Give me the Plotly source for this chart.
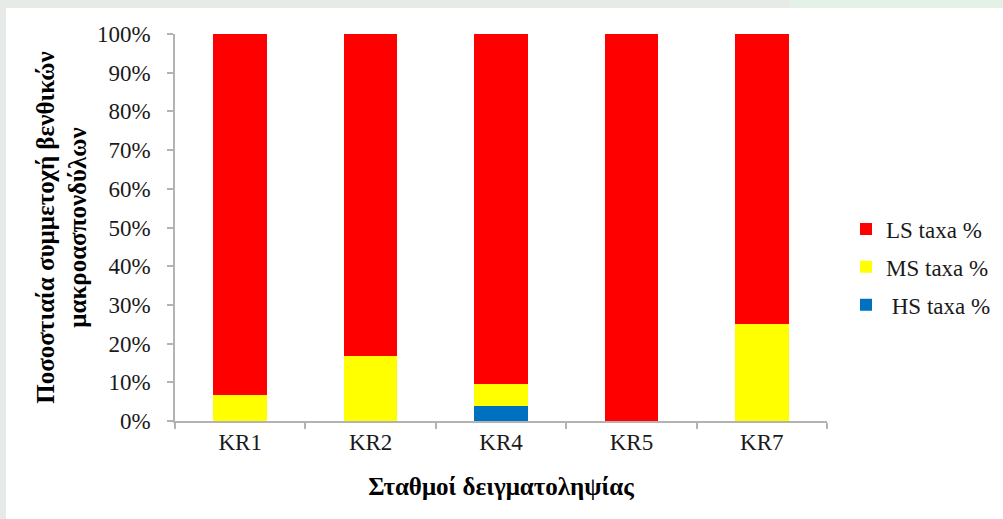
import plotly.graph_objects as go

# Sampling stations and percentage share of each sensitivity class
stations = ["KR1", "KR2", "KR4", "KR5", "KR7"]
hs_taxa = [0.0, 0.0, 4.0, 0.0, 0.0]
ms_taxa = [6.67, 16.67, 5.6, 0.0, 25.0]
ls_taxa = [93.33, 83.33, 90.4, 100.0, 75.0]

# (legend label, values, colour, legend rank)
series = [
    (" HS taxa %", hs_taxa, "#0070C0", 3),
    ("MS taxa %", ms_taxa, "#FFFF00", 2),
    ("LS taxa %", ls_taxa, "#FF0000", 1),
]

y_ticks = list(range(0, 101, 10))
y_tick_text = [f"{v}%" for v in y_ticks]

W, H = 1003, 519
L, R, T, B = 175, 176, 34, 98
pw, ph = W - L - R, H - T - B

def px_x(x):
    return (x - L) / pw

def px_y(y):
    return (H - B - y) / ph

fig = go.Figure()
for name, vals, col, rank in series:
    fig.add_trace(go.Bar(
        x=stations, y=vals, name=name, legendgroup=name, legendrank=rank,
        marker=dict(color=col, line=dict(width=0)),
        hoverinfo="x+y+name",
    ))

font_family = "Liberation Serif, Times New Roman, serif"
txt = "#1a1a1a"

fig.update_layout(
    width=W, height=H,
    barmode="stack",
    bargap=0.59,
    margin=dict(l=L, r=R, t=T, b=B, autoexpand=False),
    paper_bgcolor="#e7ebe7",
    plot_bgcolor="white",
    font=dict(family=font_family, size=23, color=txt),
    showlegend=True,
    legend=dict(
        x=px_x(846), y=px_y(267), xanchor="left", yanchor="middle",
        traceorder="grouped", tracegroupgap=5,
        font=dict(size=23, color=txt),
        bgcolor="rgba(0,0,0,0)",
        itemwidth=30,
    ),
    shapes=[
        # white chart card
        dict(type="rect", xref="paper", yref="paper", layer="below",
             x0=px_x(6), x1=px_x(1010), y0=px_y(530), y1=px_y(8),
             fillcolor="white", line=dict(width=0)),
        # pale green strip along the top right
        dict(type="rect", xref="paper", yref="paper", layer="below",
             x0=px_x(790), x1=px_x(1010), y0=px_y(8), y1=px_y(-5),
             fillcolor="#e4f1e7", line=dict(width=0)),
    ],
    xaxis=dict(
        showline=True, linecolor="#b3b3b3", linewidth=1.5,
        ticks="outside", ticklen=6, tickcolor="#b3b3b3", tickwidth=1.5,
        tickson="boundaries",
        showgrid=False, zeroline=False,
        tickfont=dict(size=23, family=font_family, color=txt),
        ticklabelstandoff=0,
        title=dict(text="<b>Σταθμοί δειγματοληψίας</b>",
                   font=dict(size=25, family=font_family, color="#000000"),
                   standoff=23),
        automargin=False,
    ),
    yaxis=dict(
        range=[0, 100],
        tickvals=y_ticks, ticktext=y_tick_text,
        showline=True, linecolor="#b3b3b3", linewidth=1.5,
        ticks="outside", ticklen=6, tickcolor="#b3b3b3", tickwidth=1.5,
        showgrid=False, zeroline=False,
        tickfont=dict(size=23, family=font_family, color=txt),
        ticklabelstandoff=12,
        title=dict(text="<b>Ποσοστιαία συμμετοχή βενθικών<br>μακροασπονδύλων</b>",
                   font=dict(size=25, family=font_family, color="#000000"),
                   standoff=3),
        automargin=False,
    ),
)

fig.write_html("out.html")
